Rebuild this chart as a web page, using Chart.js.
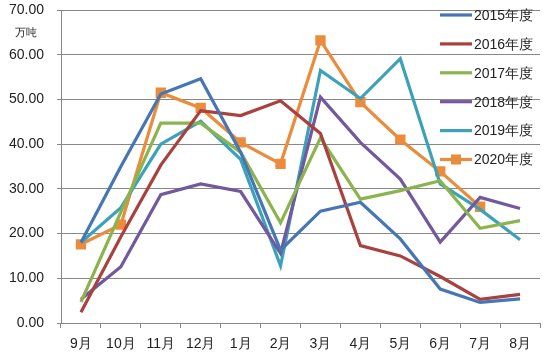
<!DOCTYPE html>
<html>
<head>
<meta charset="utf-8">
<script src="https://cdn.jsdelivr.net/npm/chart.js@4/dist/chart.umd.min.js"></script>
<style>
html,body{margin:0;padding:0;background:#fff;}
#wrap{width:550px;height:356px;position:relative;}
</style>
</head>
<body>
<div id="wrap"><canvas id="c" width="550" height="356"></canvas></div>
<script>
const categories = ['9月','10月','11月','12月','1月','2月','3月','4月','5月','6月','7月','8月'];
const yTicks = [0, 10, 20, 30, 40, 50, 60, 70];
const unitLabel = '万吨';
const seriesNames = ['2015年度','2016年度','2017年度','2018年度','2019年度','2020年度'];
const s2015 = [18.0, 35.0, 51.2, 54.6, 38.2, 16.3, 25.0, 27.0, 18.8, 7.6, 4.6, 5.4];
const s2016 = [2.4, 19.3, 35.3, 47.5, 46.4, 49.7, 42.4, 17.3, 15.0, 10.4, 5.3, 6.4];
const s2017 = [4.7, 24.8, 44.7, 44.7, 38.2, 22.4, 41.4, 27.7, 29.6, 31.8, 21.2, 22.9];
const s2018 = [5.3, 12.6, 28.7, 31.1, 29.4, 15.6, 50.5, 40.4, 32.2, 18.1, 28.1, 25.6];
const s2019 = [18.0, 25.8, 40.0, 45.1, 36.6, 12.8, 56.5, 50.2, 59.1, 31.1, 25.4, 18.6];
const s2020 = [17.6, 22.0, 51.5, 48.1, 40.4, 35.6, 63.2, 49.4, 41.0, 33.9, 26.0];

const colors = ['#4676B4','#A9413E','#8CB44E','#72589C','#3CA2BA','#EB8C3C'];
const allSeries = [s2015, s2016, s2017, s2018, s2019, s2020];

const datasets = allSeries.map((d, i) => ({
  label: seriesNames[i],
  data: d,
  borderColor: colors[i],
  backgroundColor: colors[i],
  borderWidth: 3.2,
  pointRadius: i === 5 ? 7.3 : 0,
  pointStyle: 'rect',
  pointBorderWidth: 0,
  tension: 0,
  fill: false
}));

const FONT = '"Liberation Sans", Arial, sans-serif';

const extras = {
  id: 'extras',
  afterDatasetsDraw(chart) {
    const ctx = chart.ctx;
    ctx.save();
    ctx.fillStyle = '#222';
    ctx.font = '11px ' + FONT;
    ctx.textAlign = 'center';
    ctx.textBaseline = 'middle';
    ctx.fillText(unitLabel, 26, 33);
    ctx.font = '14px ' + FONT;
    ctx.textAlign = 'left';
    chart.data.datasets.forEach((ds, i) => {
      const y = 15 + i * 28.9;
      ctx.strokeStyle = ds.borderColor;
      ctx.lineWidth = 3.2;
      ctx.beginPath();
      ctx.moveTo(440, y);
      ctx.lineTo(472, y);
      ctx.stroke();
      if (i === 5) {
        ctx.fillStyle = ds.borderColor;
        ctx.fillRect(451, y - 5, 10, 10);
      }
      ctx.fillStyle = '#222';
      ctx.fillText(ds.label, 474, y + 1);
    });
    ctx.restore();
  }
};

new Chart(document.getElementById('c'), {
  type: 'line',
  data: { labels: categories, datasets },
  options: {
    responsive: false,
    animation: false,
    devicePixelRatio: 1,
    layout: { padding: { left: 0, right: 10, top: 0, bottom: 0 } },
    plugins: { legend: { display: false }, tooltip: { enabled: false } },
    scales: {
      x: {
        offset: true,
        grid: { offset: true, drawOnChartArea: false, drawTicks: true, tickLength: 5, color: '#888' },
        border: { display: true, color: '#888', width: 1 },
        ticks: { font: { size: 14, family: FONT }, color: '#222', padding: 8, maxRotation: 0 },
        afterFit(scale) { scale.height = 33; scale.paddingLeft = 0; scale.paddingRight = 0; }
      },
      y: {
        min: 0, max: 70,
        afterBuildTicks(scale) { scale.ticks = yTicks.map(v => ({ value: v })); },
        grid: { color: '#888', lineWidth: 1, tickLength: 4, drawTicks: true },
        border: { display: true, color: '#888', width: 1 },
        ticks: {
          font: { size: 14, family: FONT }, color: '#222', padding: 13,
          callback: v => Number(v).toFixed(2)
        },
        afterFit(scale) { scale.width = 61; scale.paddingTop = 10; scale.paddingBottom = 0; }
      }
    }
  },
  plugins: [extras]
});
</script>
</body>
</html>
